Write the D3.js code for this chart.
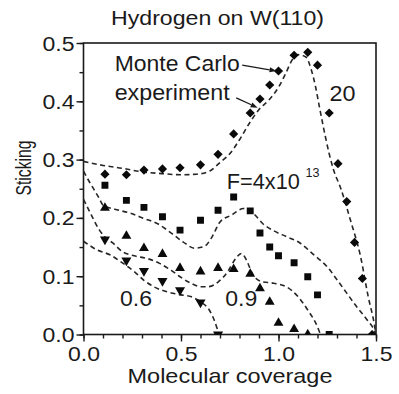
<!DOCTYPE html>
<html>
<head>
<meta charset="utf-8">
<script src="https://cdn.jsdelivr.net/npm/d3@7"></script>
<style>
  html, body { margin: 0; padding: 0; background: #fff; }
  svg { display: block; }
  text { font-family: "Liberation Sans", Arial, sans-serif; fill: #1a1a1a; }
</style>
</head>
<body>
<svg id="chart" width="399" height="394"></svg>
<script>
// ---- data ----
const xTicks = [0.0, 0.5, 1.0, 1.5];
const yTicks = [0.0, 0.1, 0.2, 0.3, 0.4, 0.5];

// experiment, F = 20
const expX20 = [0.11,0.22,0.31,0.405,0.495,0.6,0.69,0.77,0.855,0.905,0.955,1.0,1.08,1.15,1.2,1.26,1.305,1.35,1.39,1.43,1.48];
const expY20 = [0.275,0.274,0.282,0.284,0.286,0.291,0.309,0.344,0.380,0.404,0.428,0.452,0.479,0.484,0.462,0.380,0.293,0.228,0.158,0.096,0.0];
// experiment, F = 4x10^13
const expX13 = [0.11,0.22,0.31,0.405,0.495,0.6,0.69,0.77,0.855,0.905,0.955,1.0,1.08,1.15,1.2,1.26];
const expY13 = [0.256,0.230,0.218,0.202,0.179,0.196,0.213,0.236,0.212,0.174,0.150,0.135,0.123,0.099,0.068,0.0];
// experiment, 0.9
const expX09 = [0.11,0.22,0.31,0.405,0.495,0.6,0.69,0.77,0.855,0.905,0.955,1.0,1.08,1.15];
const expY09 = [0.217,0.169,0.148,0.138,0.114,0.108,0.114,0.112,0.104,0.079,0.056,0.020,0.009,0.0];
// experiment, 0.6
const expX06 = [0.11,0.22,0.31,0.405,0.495,0.6,0.69];
const expY06 = [0.163,0.127,0.109,0.092,0.076,0.055,0.0];

// Monte Carlo curves
const mcX20 = [0,0.1,0.2,0.3,0.4,0.5,0.58,0.65,0.7,0.75,0.8,0.85,0.9,0.95,1.0,1.04,1.07,1.1,1.14,1.17,1.19,1.21,1.24,1.26,1.28,1.32,1.37,1.42,1.46,1.49,1.5];
const mcY20 = [0.297,0.29,0.285,0.279,0.276,0.274,0.275,0.281,0.295,0.31,0.334,0.362,0.386,0.402,0.424,0.45,0.471,0.48,0.476,0.452,0.425,0.39,0.34,0.31,0.285,0.25,0.195,0.135,0.065,0.02,0.0];
const mcX13 = [0,0.03,0.055,0.08,0.1,0.16,0.24,0.31,0.38,0.45,0.51,0.57,0.62,0.66,0.7,0.76,0.82,0.87,0.92,0.975,1.04,1.11,1.18,1.25,1.3,1.35,1.4,1.455,1.49,1.5];
const mcY13 = [0.28,0.262,0.248,0.234,0.222,0.215,0.208,0.199,0.19,0.174,0.159,0.148,0.151,0.168,0.193,0.205,0.216,0.208,0.19,0.178,0.168,0.157,0.137,0.116,0.094,0.071,0.048,0.025,0.008,0.0];
const mcX09 = [0,0.04,0.08,0.11,0.15,0.2,0.26,0.33,0.39,0.45,0.5,0.55,0.6,0.64,0.69,0.74,0.78,0.81,0.835,0.865,0.91,0.975,1.04,1.1,1.15,1.2,1.215];
const mcY09 = [0.232,0.205,0.18,0.167,0.157,0.142,0.135,0.13,0.122,0.11,0.098,0.088,0.082,0.082,0.09,0.108,0.13,0.139,0.128,0.105,0.091,0.088,0.082,0.065,0.042,0.013,0.0];
const mcX06 = [0,0.07,0.14,0.19,0.26,0.31,0.36,0.43,0.5,0.55,0.6,0.645,0.67,0.69,0.697];
const mcY06 = [0.16,0.145,0.136,0.125,0.108,0.093,0.082,0.073,0.068,0.065,0.056,0.042,0.025,0.006,0.0];

// ---- layout ----
const svg = d3.select("#chart");
const L = 83.5, R = 376, T = 43, B = 334.5;
const x = d3.scaleLinear().domain([0, 1.5]).range([L, R]);
const y = d3.scaleLinear().domain([0, 0.5]).range([B, T]);
const ink = "#1a1a1a";

svg.append("defs").append("clipPath").attr("id", "plotclip")
  .append("rect").attr("x", L).attr("y", T).attr("width", R - L).attr("height", B - T);

// title
svg.append("text").attr("x", 217.5).attr("y", 25).attr("text-anchor", "middle")
  .attr("font-size", 21).attr("textLength", 213).attr("lengthAdjust", "spacingAndGlyphs")
  .text("Hydrogen on W(110)");

// minor ticks
const gxm = svg.append("g").attr("transform", `translate(0,${B})`)
  .call(d3.axisBottom(x).tickValues(d3.range(0, 16).map(i => i / 10)).tickSize(4).tickFormat(""));
const gym = svg.append("g").attr("transform", `translate(${L},0)`)
  .call(d3.axisLeft(y).tickValues(d3.range(0, 11).map(i => i * 0.05)).tickSize(4).tickFormat(""));
// major ticks
const gx = svg.append("g").attr("transform", `translate(0,${B})`)
  .call(d3.axisBottom(x).tickValues(xTicks).tickSize(7).tickPadding(4).tickFormat(d3.format(".1f")));
const gy = svg.append("g").attr("transform", `translate(${L},0)`)
  .call(d3.axisLeft(y).tickValues(yTicks).tickSize(7).tickPadding(2).tickFormat(d3.format(".1f")));
[gxm, gym, gx, gy].forEach(g => {
  g.select(".domain").remove();
  g.selectAll(".tick line").attr("stroke", ink).attr("stroke-width", 1.4);
});
gx.selectAll(".tick text").attr("font-size", 21).attr("fill", ink)
  .attr("textLength", 32).attr("lengthAdjust", "spacingAndGlyphs").attr("dy", "0.75em");
gy.selectAll(".tick text").attr("font-size", 19.5).attr("fill", ink)
  .attr("textLength", 32).attr("lengthAdjust", "spacingAndGlyphs").attr("dy", "0.36em");
svg.selectAll(".tick text").attr("font-family", "Liberation Sans, Arial, sans-serif");

// frame
svg.append("rect").attr("x", L).attr("y", T).attr("width", R - L).attr("height", B - T)
  .attr("fill", "none").attr("stroke", ink).attr("stroke-width", 1.6);

// axis titles
svg.append("text").attr("x", 230).attr("y", 383).attr("text-anchor", "middle")
  .attr("font-size", 21).attr("textLength", 205).attr("lengthAdjust", "spacingAndGlyphs")
  .text("Molecular coverage");
svg.append("text").attr("transform", "translate(30.5,168) rotate(-90)").attr("text-anchor", "middle")
  .attr("font-size", 22).attr("textLength", 55).attr("lengthAdjust", "spacingAndGlyphs")
  .text("Sticking");

// Monte Carlo curves
const plot = svg.append("g").attr("clip-path", "url(#plotclip)");
const line = d3.line().x(d => x(d[0])).y(d => y(d[1])).curve(d3.curveMonotoneX);
[[mcX20, mcY20], [mcX13, mcY13], [mcX09, mcY09], [mcX06, mcY06]].forEach(([xs, ys]) => {
  plot.append("path").datum(xs.map((v, i) => [v, ys[i]]))
    .attr("d", line).attr("fill", "none").attr("stroke", "#262626")
    .attr("stroke-width", 1.6).attr("stroke-dasharray", "5,3.5");
});

// experimental markers
function markers(xs, ys, type, size, rot) {
  const sym = d3.symbol().type(type).size(size);
  plot.append("g").selectAll("path").data(xs.map((v, i) => [v, ys[i]])).join("path")
    .attr("d", sym).attr("fill", "#0a0a0a")
    .attr("transform", d => `translate(${x(d[0])},${y(d[1])}) rotate(${rot})`);
}
markers(expX20, expY20, d3.symbolSquare, 42, 45);
markers(expX13, expY13, d3.symbolSquare, 48, 0);
markers(expX09, expY09, d3.symbolTriangle, 42, 0);
markers(expX06, expY06, d3.symbolTriangle, 44, 180);

// annotations
function label(tx, ty, str, fs, len) {
  return svg.append("text").attr("x", x(tx)).attr("y", y(ty)).attr("font-size", fs)
    .attr("textLength", len).attr("lengthAdjust", "spacingAndGlyphs").text(str);
}
label(0.16, 0.452, "Monte Carlo", 22, 125);
label(0.16, 0.402, "experiment", 22, 115);
label(1.262, 0.4, "20", 22, 26);
label(0.735, 0.25, "F=4x10", 21.5, 73);
svg.append("text").attr("x", x(1.138)).attr("y", y(0.27)).attr("font-size", 12.5)
  .attr("textLength", 14).attr("lengthAdjust", "spacingAndGlyphs").text("13");
label(0.187, 0.049, "0.6", 21.5, 32);
label(0.727, 0.049, "0.9", 21.5, 32);

function arrow(x1, y1, x2, y2) {
  const X1 = x(x1), Y1 = y(y1), X2 = x(x2), Y2 = y(y2);
  const a = Math.atan2(Y2 - Y1, X2 - X1), h = 7, w = 2.6;
  const bx = X2 - h * Math.cos(a), by = Y2 - h * Math.sin(a);
  svg.append("line").attr("x1", X1).attr("y1", Y1).attr("x2", bx).attr("y2", by)
    .attr("stroke", ink).attr("stroke-width", 1.3);
  svg.append("path").attr("fill", ink).attr("d",
    `M${X2},${Y2}L${bx - w * Math.sin(a)},${by + w * Math.cos(a)}L${bx + w * Math.sin(a)},${by - w * Math.cos(a)}Z`);
}
arrow(0.814, 0.462, 0.99, 0.452);
arrow(0.783, 0.406, 0.893, 0.389);
</script>
</body>
</html>
